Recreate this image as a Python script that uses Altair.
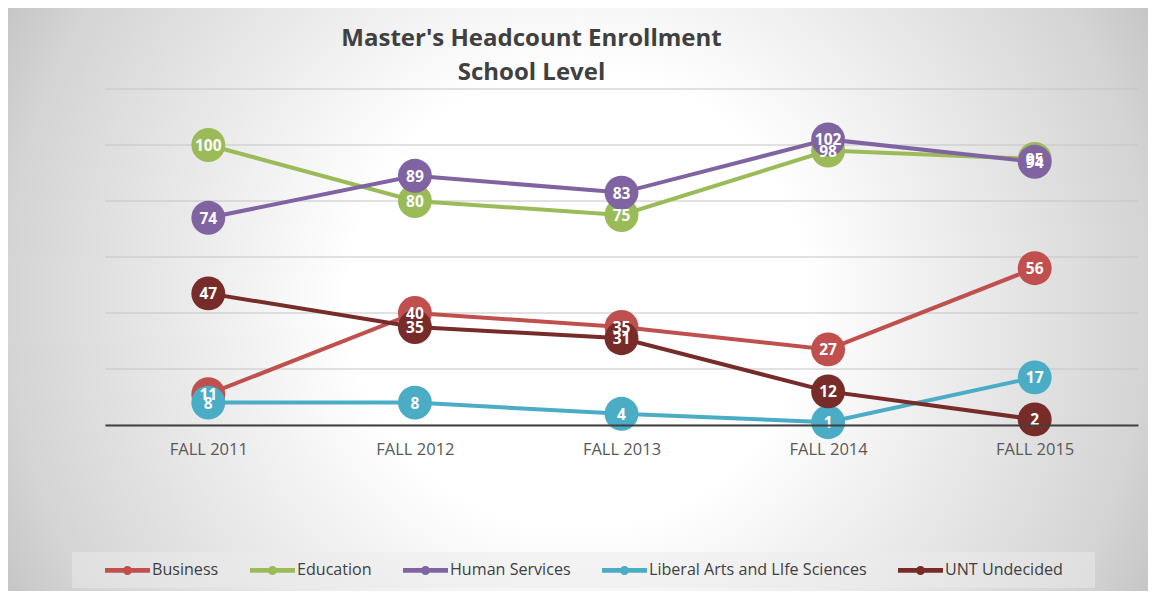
import altair as alt
import pandas as pd

years = ["FALL 2011", "FALL 2012", "FALL 2013", "FALL 2014", "FALL 2015"]
series = ["Business", "Education", "Human Services",
          "Liberal Arts and LIfe Sciences", "UNT Undecided"]
business = [11, 40, 35, 27, 56]
education = [100, 80, 75, 98, 95]
human_services = [74, 89, 83, 102, 94]
liberal_arts = [8, 8, 4, 1, 17]
unt_undecided = [47, 35, 31, 12, 2]
colors = ["#C0504D", "#9BBB59", "#8064A2", "#4BACC6", "#772C2A"]
grid_values = [0, 20, 40, 60, 80, 100, 120]
title_lines = ["Master's Headcount Enrollment", "School Level"]

rows = []
for s, vals in zip(series, [business, education, human_services, liberal_arts, unt_undecided]):
    for i, (yr, v) in enumerate(zip(years, vals)):
        rows.append({"year": yr, "series": s, "grp": s, "value": v, "idx": i})
df = pd.DataFrame(rows)

FONT = "Open Sans"
W, H = 1033, 336
PAD = {"left": 97, "top": 81, "right": 10, "bottom": 166}

yscale = alt.Scale(domain=[0, 120], nice=False, zero=True)

x_enc = alt.X("year:N", sort=years,
              scale=alt.Scale(type="point", padding=0.5),
              axis=alt.Axis(title=None, labelAngle=0, ticks=False, grid=False,
                            domainColor="#404040", domainWidth=2, zindex=1,
                            labelPadding=16, labelFontSize=16.5,
                            labelFont=FONT, labelColor="#595959"))
y_enc = alt.Y("value:Q", scale=yscale, axis=None)

one = pd.DataFrame({"a": [0]})

bg = alt.Chart(one).mark_rect(
    fill=alt.RadialGradient(
        gradient="radial",
        stops=[alt.GradientStop(offset=0, color="#ffffff"),
               alt.GradientStop(offset=0.35, color="#ffffff"),
               alt.GradientStop(offset=0.88, color="#d4d4d4"),
               alt.GradientStop(offset=1, color="#c4c4c4")],
        x1=0.5, y1=0.5, r1=0, x2=0.5, y2=0.5, r2=0.57)
).encode(x=alt.value(-PAD["left"]), x2=alt.value(W + PAD["right"]),
         y=alt.value(-PAD["top"]), y2=alt.value(H + PAD["bottom"]))

grid = alt.Chart(pd.DataFrame({"g": grid_values})).mark_rule(
    color="#c4c4c4", strokeWidth=1
).encode(y=alt.Y("g:Q", scale=yscale, axis=None))

legend_box = alt.Chart(one).mark_rect(
    fill="#ebebeb", opacity=0.5
).encode(x=alt.value(-33), x2=alt.value(990), y=alt.value(463), y2=alt.value(499))

t1 = alt.Chart(one).mark_text(text=title_lines[0], font=FONT, fontSize=24,
                              fontWeight="bold", color="#404040",
                              align="center", baseline="alphabetic").encode(
    x=alt.value(426.5), y=alt.value(-43))
t2 = alt.Chart(one).mark_text(text=title_lines[1], font=FONT, fontSize=24,
                              fontWeight="bold", color="#404040",
                              align="center", baseline="alphabetic").encode(
    x=alt.value(426.5), y=alt.value(-9))

lines = alt.Chart(df).mark_line(strokeWidth=4).encode(
    x=x_enc, y=y_enc,
    stroke=alt.Stroke("grp:N", scale=alt.Scale(domain=series, range=colors),
                      legend=None),
    order="idx:Q")

symbol_path = ("M-1,-0.2H2.75V0.2H-1Z "
               "M0.5,0A0.375,0.375 0 1,1 1.25,0A0.375,0.375 0 1,1 0.5,0Z")

points = alt.Chart(df).mark_point(filled=True, shape="circle", size=1150,
                                  opacity=1, strokeWidth=0).encode(
    x=x_enc, y=y_enc,
    fill=alt.Fill("series:N", scale=alt.Scale(domain=series, range=colors),
                  legend=alt.Legend(title=None, orient="none", legendX=0, legendY=469,
                                    direction="horizontal", columns=5,
                                    symbolType=symbol_path, symbolSize=576,
                                    symbolStrokeWidth=0, symbolOpacity=1,
                                    labelOffset=23, columnPadding=31,
                                    labelFont=FONT, labelFontSize=16.1,
                                    labelColor="#404040", labelLimit=400)))

labels = alt.Chart(df).mark_text(color="white", fontWeight="bold", fontSize=15.5,
                                 font=FONT, baseline="middle", dy=1).encode(
    x=x_enc, y=y_enc, text="value:Q")

chart = alt.layer(bg, grid, legend_box, t1, t2, lines, points, labels).properties(
    width=W, height=H,
    padding=PAD,
    autosize=alt.AutoSizeParams(type="none"),
).resolve_scale(fill="independent", stroke="independent").configure_view(
    stroke=None).configure(background="#ffffff")

chart.save("out.html", embed_options={"renderer": "svg", "actions": False})
